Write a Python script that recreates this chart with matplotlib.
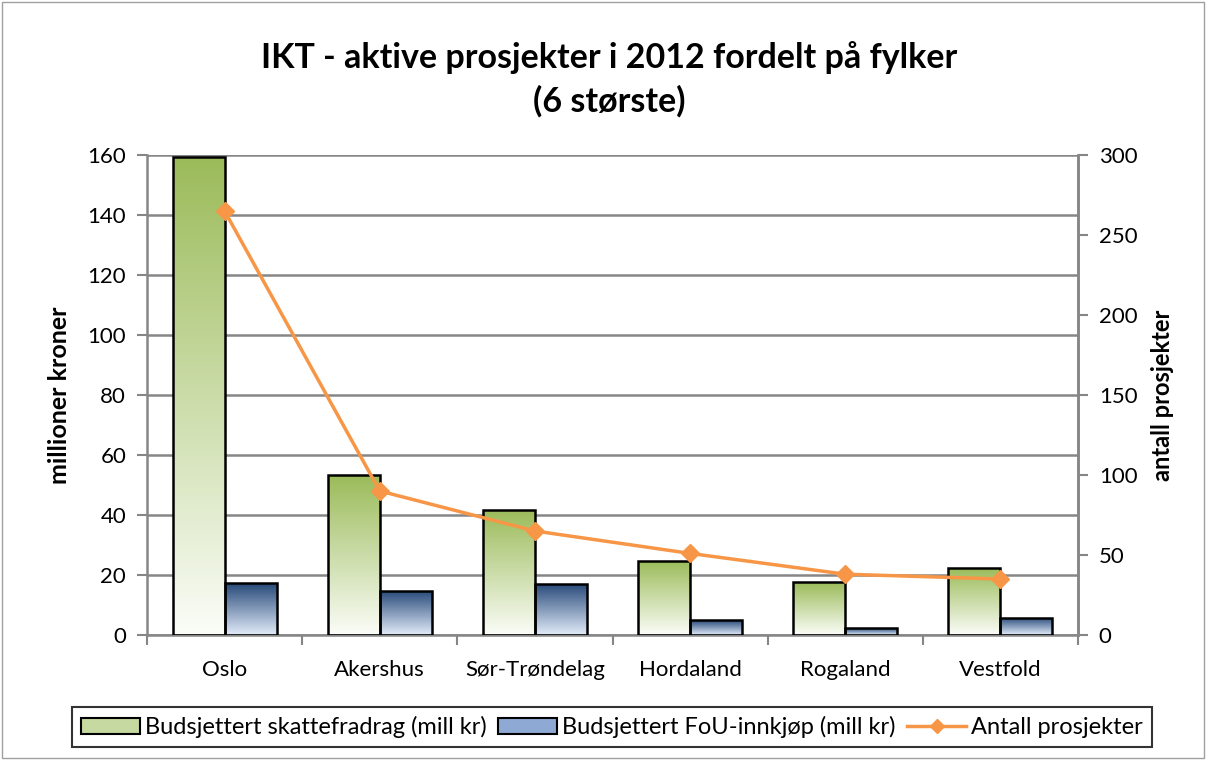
import numpy as np
import matplotlib
matplotlib.use("Agg")
import matplotlib.pyplot as plt
from matplotlib.colors import LinearSegmentedColormap
from matplotlib.patches import Rectangle, Patch
from matplotlib.lines import Line2D

plt.rcParams['font.family'] = ['Lato', 'DejaVu Sans']

fylker = ["Oslo", "Akershus", "Sør-Trøndelag", "Hordaland", "Rogaland", "Vestfold"]
skattefradrag = [159.5, 53.3, 41.7, 24.8, 17.6, 22.3]
fou_innkjop = [17.2, 14.7, 17.1, 5.0, 2.3, 5.7]
antall = [265, 90, 65, 51, 38, 35]

grid_col = "#868686"
oransje = "#F79646"

fig = plt.figure(figsize=(12.06, 7.6), dpi=100)
fig.patches.append(Rectangle((0.002, 0.002), 0.996, 0.996, transform=fig.transFigure,
                             fill=False, edgecolor="#A0A0A0", linewidth=1))

ax = fig.add_axes([147 / 1206, 1 - 635 / 760, (1078 - 147) / 1206, (635 - 155) / 760])
x = np.arange(len(fylker))
w = 0.335

gronn = LinearSegmentedColormap.from_list("g", ["#FBFDF8", "#9BBB59"])
bla = LinearSegmentedColormap.from_list("b", ["#E2ECFA", "#264878"])

def gradient_bars(xs, verdier, cmap):
    bars = ax.bar(xs, verdier, w, facecolor="none", edgecolor="black", linewidth=1.8, zorder=3)
    grad = np.linspace(0, 1, 256).reshape(-1, 1)
    for b in bars:
        bx, by = b.get_x(), b.get_y()
        bw, bh = b.get_width(), b.get_height()
        im = ax.imshow(grad, extent=[bx, bx + bw, by, by + bh], origin="lower",
                       aspect="auto", cmap=cmap, zorder=2)
        im.set_clip_path(b)
    return bars

gradient_bars(x - w / 2, skattefradrag, gronn)
gradient_bars(x + w / 2, fou_innkjop, bla)

ax.set_xlim(-0.5, len(fylker) - 0.5)
ax.set_ylim(0, 160)
ax.set_yticks(range(0, 161, 20))
ax.yaxis.grid(True, color=grid_col, linewidth=1.8)
ax.set_axisbelow(True)
ax.set_xticks(x)
ax.set_xticklabels(fylker, fontsize=16)
ax.set_xticks(np.arange(-0.5, len(fylker), 1), minor=True)
ax.tick_params(axis="x", which="major", length=0, pad=18)
ax.tick_params(axis="x", which="minor", length=7, color=grid_col, width=1.5)
ax.tick_params(axis="y", length=7, color=grid_col, width=1.5, labelsize=16, pad=8)
for s in ax.spines.values():
    s.set_color(grid_col)
    s.set_linewidth(1.8)
ax.spines["top"].set_visible(False)
ax.set_ylabel("millioner kroner", fontsize=18, fontweight="bold", labelpad=12)

ax2 = ax.twinx()
ax2.plot(x, antall, color=oransje, linewidth=2.5, marker="D", markersize=9, zorder=5)
ax2.set_ylim(0, 300)
ax2.set_yticks(range(0, 301, 50))
ax2.tick_params(axis="y", length=7, color=grid_col, width=1.5, labelsize=16, pad=8)
for s in ax2.spines.values():
    s.set_visible(False)
ax2.spines["right"].set_visible(True)
ax2.spines["right"].set_color(grid_col)
ax2.spines["right"].set_linewidth(1.8)
ax2.set_ylabel("antall prosjekter", fontsize=17, fontweight="bold", labelpad=10)

fig.text(0.505, 1 - 58 / 760, "IKT - aktive prosjekter i 2012 fordelt på fylker",
         ha="center", va="center", fontsize=24.5, fontweight="bold")
fig.text(0.505, 1 - 101 / 760, "(6 største)", ha="center", va="center",
         fontsize=24.5, fontweight="bold")

handles = [Patch(facecolor="#C5D9A0", edgecolor="black", linewidth=1.5),
           Patch(facecolor="#8EA9D3", edgecolor="black", linewidth=1.5),
           Line2D([], [], color=oransje, linewidth=2.5, marker="D", markersize=7)]
labels = ["Budsjettert skattefradrag (mill kr)", "Budsjettert FoU-innkjøp (mill kr)",
          "Antall prosjekter"]
leg = fig.legend(handles, labels, loc="center", bbox_to_anchor=(612 / 1206, 1 - 727 / 760),
                 ncol=3, fontsize=17, frameon=True, fancybox=False, edgecolor="black",
                 handlelength=2.5, handletextpad=0.2, columnspacing=0.5, borderpad=0.4)
leg.get_frame().set_linewidth(1.5)

fig.savefig("out.png", dpi=100)
